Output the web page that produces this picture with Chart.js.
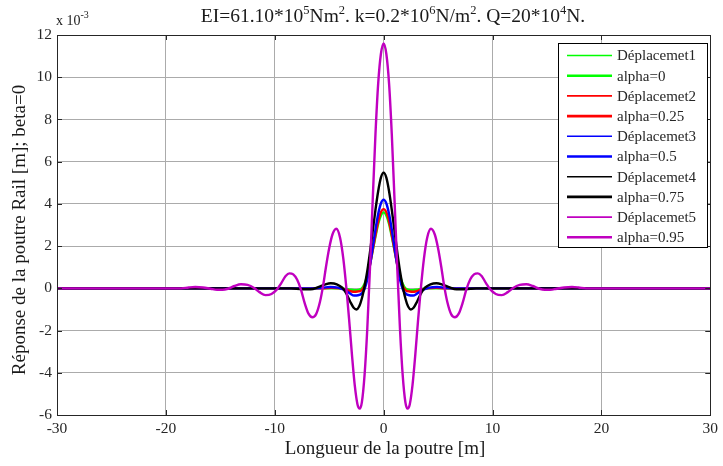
<!DOCTYPE html>
<html>
<head>
<meta charset="utf-8">
<script src="https://cdn.jsdelivr.net/npm/chart.js@4/dist/chart.umd.min.js"></script>
<style>
  html, body { margin: 0; padding: 0; background: #ffffff; }
  #wrap { width: 723px; height: 466px; }
</style>
</head>
<body>
<div id="wrap"><canvas id="c" width="723" height="466"></canvas></div>
<script>
// Rail beam response along the beam for five values of alpha (values in units of 1e-3 m)
const xTicks = [-30, -20, -10, 0, 10, 20, 30];
const yTicks = [-6, -4, -2, 0, 2, 4, 6, 8, 10, 12];

const legendLabels = ['Déplacemet1', 'alpha=0', 'Déplacemet2', 'alpha=0.25', 'Déplacemet3',
                      'alpha=0.5', 'Déplacemet4', 'alpha=0.75', 'Déplacemet5', 'alpha=0.95'];
const seriesNames = ['alpha=0', 'alpha=0.25', 'alpha=0.5', 'alpha=0.75', 'alpha=0.95'];
const seriesColors = ['#00ff00', '#ff0000', '#0000ff', '#000000', '#c000c0'];

// alpha = 0
const xAlpha0 = [-30, -4.0, -3.2, -2.7, -2.3, -2.0, -1.75, -1.5, -1.25, -1.0, -0.75, -0.5, -0.25, 0,
                 0.25, 0.5, 0.75, 1.0, 1.25, 1.5, 1.75, 2.0, 2.3, 2.7, 3.2, 4.0, 30];
const yAlpha0 = [0, 0, -0.05, -0.09, -0.07, 0.0, 0.22, 0.6, 1.15, 1.8, 2.45, 3.05, 3.45, 3.6,
                 3.45, 3.05, 2.45, 1.8, 1.15, 0.6, 0.22, 0.0, -0.07, -0.09, -0.05, 0, 0];

// alpha = 0.25
const xAlpha025 = [-30, -5.6, -4.8, -4.0, -3.3, -2.8, -2.4, -2.0, -1.75, -1.5, -1.25, -1.0, -0.75, -0.5, -0.25, 0,
                   0.25, 0.5, 0.75, 1.0, 1.25, 1.5, 1.75, 2.0, 2.4, 2.8, 3.3, 4.0, 4.8, 5.6, 30];
const yAlpha025 = [0, 0, 0.02, 0, -0.09, -0.16, -0.15, -0.08, 0.12, 0.52, 1.12, 1.82, 2.52, 3.17, 3.6, 3.75,
                   3.6, 3.17, 2.52, 1.82, 1.12, 0.52, 0.12, -0.08, -0.15, -0.16, -0.09, 0, 0.02, 0, 0];

// alpha = 0.5
const xAlpha05 = [-30, -6.4, -5.6, -4.9, -4.2, -3.6, -3.1, -2.7, -2.35, -2.0, -1.75, -1.5, -1.25, -1.0, -0.75, -0.5, -0.25, 0,
                  0.25, 0.5, 0.75, 1.0, 1.25, 1.5, 1.75, 2.0, 2.35, 2.7, 3.1, 3.6, 4.2, 4.9, 5.6, 6.4, 30];
const yAlpha05 = [0, 0, 0.03, 0.06, 0.03, -0.08, -0.24, -0.34, -0.33, -0.24, -0.03, 0.42, 1.1, 1.93, 2.78, 3.52, 4.02, 4.2,
                  4.02, 3.52, 2.78, 1.93, 1.1, 0.42, -0.03, -0.24, -0.33, -0.34, -0.24, -0.08, 0.03, 0.06, 0.03, 0, 0];

// alpha = 0.75
const xAlpha075 = [-30, -8.5, -7.5, -6.7, -6.0, -5.4, -4.85, -4.3, -3.8, -3.5, -3.25, -3.0, -2.75, -2.5, -2.25, -2.0,
                   -1.75, -1.5, -1.25, -1.0, -0.75, -0.5, -0.25, 0,
                   0.25, 0.5, 0.75, 1.0, 1.25, 1.5, 1.75, 2.0, 2.25, 2.5, 2.75, 3.0, 3.25, 3.5, 3.8, 4.3,
                   4.85, 5.4, 6.0, 6.7, 7.5, 8.5, 30];
const yAlpha075 = [0, 0, -0.04, -0.04, 0.06, 0.18, 0.24, 0.19, 0.03, -0.18, -0.43, -0.7, -0.92, -1.0, -0.86, -0.48,
                   0.1, 0.82, 1.72, 2.72, 3.72, 4.6, 5.24, 5.48,
                   5.24, 4.6, 3.72, 2.72, 1.72, 0.82, 0.1, -0.48, -0.86, -1.0, -0.92, -0.7, -0.43, -0.18, 0.03, 0.19,
                   0.24, 0.18, 0.06, -0.04, -0.04, 0, 0];

// alpha = 0.95
const xAlpha095 = [-30, -18.6, -17.9, -17.3, -16.6, -15.9, -15.3, -14.8, -14.3, -13.7, -13.1, -12.5, -11.9, -11.4,
                   -10.85, -10.3, -9.8, -9.4, -9.0, -8.65, -8.3, -7.95, -7.6, -7.25, -6.9, -6.55, -6.2, -5.85,
                   -5.55, -5.3, -5.0, -4.7, -4.35, -4.0, -3.7, -3.4, -3.15, -2.9, -2.65, -2.4, -2.2, -2.0,
                   -1.75, -1.5, -1.25, -1.0, -0.75, -0.5, -0.25, 0,
                   0.25, 0.5, 0.75, 1.0, 1.25, 1.5, 1.75, 2.0, 2.2, 2.4, 2.65, 2.9, 3.15, 3.4, 3.7, 4.0,
                   4.35, 4.7, 5.0, 5.3, 5.55, 5.85, 6.2, 6.55, 6.9, 7.25, 7.6, 7.95, 8.3, 8.65, 9.0, 9.4,
                   9.8, 10.3, 10.85, 11.4, 11.9, 12.5, 13.1, 13.7, 14.3, 14.8, 15.3, 15.9, 16.6, 17.3,
                   17.9, 18.6, 30];
const yAlpha095 = [0, 0, 0.04, 0.06, 0.04, -0.02, -0.07, -0.07, -0.02, 0.11, 0.19, 0.16, 0.02, -0.18,
                   -0.32, -0.27, -0.05, 0.25, 0.58, 0.71, 0.66, 0.42, -0.05, -0.7, -1.2, -1.37, -1.22, -0.65,
                   0.15, 1.0, 1.9, 2.55, 2.82, 2.4, 1.4, -0.1, -1.6, -3.2, -4.6, -5.5, -5.7, -5.4,
                   -4.1, -1.9, 1.0, 4.2, 7.3, 9.7, 11.1, 11.6,
                   11.1, 9.7, 7.3, 4.2, 1.0, -1.9, -4.1, -5.4, -5.7, -5.5, -4.6, -3.2, -1.6, -0.1, 1.4, 2.4,
                   2.82, 2.55, 1.9, 1.0, 0.15, -0.65, -1.22, -1.37, -1.2, -0.7, -0.05, 0.42, 0.66, 0.71, 0.58, 0.25,
                   -0.05, -0.27, -0.32, -0.18, 0.02, 0.16, 0.19, 0.11, -0.02, -0.07, -0.07, -0.02, 0.04, 0.06,
                   0.04, 0, 0];

const seriesX = [xAlpha0, xAlpha025, xAlpha05, xAlpha075, xAlpha095];
const seriesY = [yAlpha0, yAlpha025, yAlpha05, yAlpha075, yAlpha095];

const SERIF = '"Liberation Serif", "DejaVu Serif", serif';
const TEXT_COLOR = '#262626';

function pairs(xs, ys) {
  return xs.map((x, i) => ({ x: x, y: ys[i] }));
}

// later series are drawn over earlier ones (lower order = drawn on top)
const datasets = seriesNames.map((name, i) => ({
  label: name,
  data: pairs(seriesX[i], seriesY[i]),
  borderColor: seriesColors[i],
  backgroundColor: seriesColors[i],
  borderWidth: 2.4,
  pointRadius: 0,
  fill: false,
  order: seriesNames.length - i,
  cubicInterpolationMode: 'monotone'
}));

// draws a run of text pieces, some raised as exponents
function drawRuns(ctx, runs, x, y, size, supSize, rise, align) {
  let total = 0;
  runs.forEach(r => {
    ctx.font = (r[1] ? supSize : size) + 'px ' + SERIF;
    total += ctx.measureText(r[0]).width;
  });
  let cx = align === 'center' ? x - total / 2 : x;
  ctx.textAlign = 'left';
  ctx.textBaseline = 'alphabetic';
  runs.forEach(r => {
    ctx.font = (r[1] ? supSize : size) + 'px ' + SERIF;
    ctx.fillText(r[0], cx, r[1] ? y - rise : y);
    cx += ctx.measureText(r[0]).width;
  });
}

const decorations = {
  id: 'decorations',
  afterDatasetsDraw(chart) {
    const ctx = chart.ctx;
    const a = chart.chartArea;
    const xs = chart.scales.x, ys = chart.scales.y;
    ctx.save();

    // axes box with inward tick marks
    ctx.strokeStyle = '#262626';
    ctx.lineWidth = 1;
    ctx.strokeRect(Math.round(a.left) + 0.5, Math.round(a.top) + 0.5,
                   Math.round(a.right - a.left), Math.round(a.bottom - a.top));
    ctx.beginPath();
    xTicks.forEach(v => {
      const px = Math.round(xs.getPixelForValue(v)) + 0.5;
      ctx.moveTo(px, a.bottom); ctx.lineTo(px, a.bottom - 5);
      ctx.moveTo(px, a.top); ctx.lineTo(px, a.top + 5);
    });
    yTicks.forEach(v => {
      const py = Math.round(ys.getPixelForValue(v)) + 0.5;
      ctx.moveTo(a.left, py); ctx.lineTo(a.left + 5, py);
      ctx.moveTo(a.right, py); ctx.lineTo(a.right - 5, py);
    });
    ctx.stroke();

    // legend
    const lx = 558, ly = 43, lw = 149, lh = 204, row = 20.2;
    ctx.fillStyle = '#ffffff';
    ctx.fillRect(lx, ly, lw, lh);
    ctx.strokeStyle = '#000000';
    ctx.lineWidth = 1;
    ctx.strokeRect(lx + 0.5, ly + 0.5, lw, lh);
    ctx.font = '15px ' + SERIF;
    ctx.textBaseline = 'middle';
    ctx.textAlign = 'left';
    legendLabels.forEach((lab, i) => {
      const cy = ly + 12.5 + i * row;
      ctx.strokeStyle = seriesColors[Math.floor(i / 2)];
      ctx.lineWidth = i % 2 === 0 ? 1.6 : 2.6;
      ctx.beginPath();
      ctx.moveTo(567, cy); ctx.lineTo(612, cy);
      ctx.stroke();
      ctx.fillStyle = TEXT_COLOR;
      ctx.fillText(lab, 617, cy + 1);
    });

    // title, exponent note and axis titles
    ctx.fillStyle = '#1a1a1a';
    drawRuns(ctx, [['EI=61.10*10', 0], ['5', 1], ['Nm', 0], ['2', 1], ['. k=0.2*10', 0], ['6', 1],
                   ['N/m', 0], ['2', 1], ['. Q=20*10', 0], ['4', 1], ['N.', 0]],
             393, 22, 19.5, 12.5, 8, 'center');
    drawRuns(ctx, [['x 10', 0], ['-3', 1]], 56, 25, 14, 10, 7, 'left');

    ctx.font = '19px ' + SERIF;
    ctx.textAlign = 'center';
    ctx.textBaseline = 'middle';
    ctx.fillText('Longueur de la poutre [m]', 385, 449);
    ctx.translate(20, 230);
    ctx.rotate(-Math.PI / 2);
    ctx.fillText('Réponse de la poutre Rail [m]; beta=0', 0, 0);
    ctx.restore();
  }
};

new Chart(document.getElementById('c'), {
  type: 'line',
  data: { datasets: datasets },
  options: {
    responsive: false,
    animation: false,
    devicePixelRatio: 1,
    layout: { padding: { top: 35, right: 7, left: 0, bottom: 0 } },
    plugins: { legend: { display: false }, title: { display: false }, tooltip: { enabled: false } },
    scales: {
      x: {
        type: 'linear',
        min: -30, max: 30,
        afterBuildTicks: s => { s.ticks = xTicks.map(v => ({ value: v })); },
        afterFit: s => { s.height = 51; },
        border: { display: false },
        grid: { color: '#ababab', lineWidth: 1, drawTicks: false },
        ticks: { color: TEXT_COLOR, font: { family: SERIF, size: 15.5 }, padding: 5, maxRotation: 0 }
      },
      y: {
        type: 'linear',
        min: -6, max: 12,
        afterBuildTicks: s => { s.ticks = yTicks.map(v => ({ value: v })); },
        afterFit: s => { s.width = 57; },
        border: { display: false },
        grid: { color: '#ababab', lineWidth: 1, drawTicks: false },
        ticks: { color: TEXT_COLOR, font: { family: SERIF, size: 15.5 }, padding: 5 }
      }
    }
  },
  plugins: [decorations]
});
</script>
</body>
</html>
